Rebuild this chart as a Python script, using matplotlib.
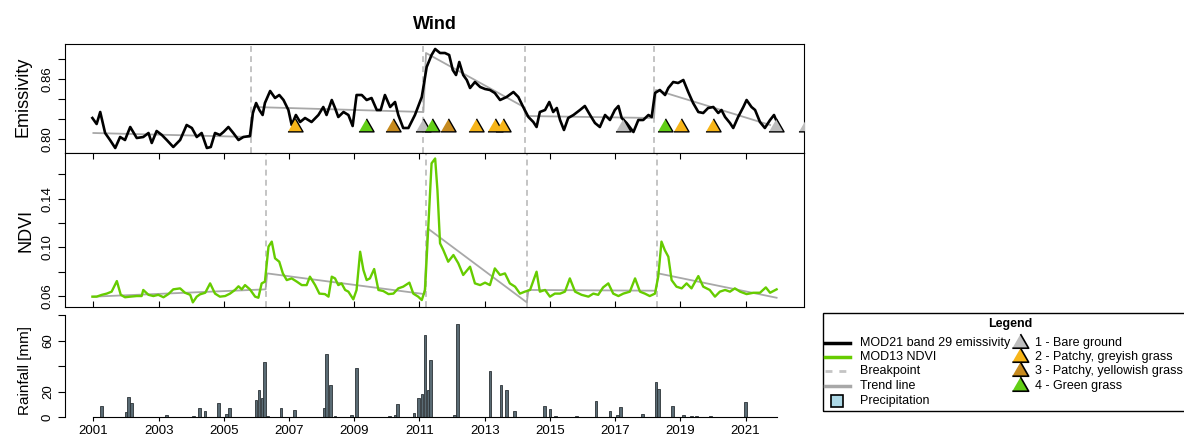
import matplotlib
matplotlib.use('Agg')
import matplotlib.pyplot as plt
from matplotlib.lines import Line2D
from matplotlib.patches import Rectangle

plt.rcParams['font.family'] = ['Liberation Sans', 'DejaVu Sans']

# ---- emissivity (MOD21 band 29) ----
emis_year = [2000.97, 2001.10, 2001.21, 2001.36, 2001.51, 2001.67, 2001.82, 2001.97, 2002.13, 2002.33,
             2002.53, 2002.69, 2002.79, 2002.94, 2003.10, 2003.25, 2003.45, 2003.66, 2003.86, 2004.02,
             2004.17, 2004.32, 2004.48, 2004.60, 2004.73, 2004.88, 2004.99, 2005.14, 2005.29, 2005.45,
             2005.60, 2005.80, 2005.89, 2005.99, 2006.09, 2006.19, 2006.26, 2006.42, 2006.57, 2006.70,
             2006.83, 2006.98, 2007.08, 2007.21, 2007.34, 2007.49, 2007.69, 2007.90, 2008.05, 2008.15,
             2008.31, 2008.41, 2008.51, 2008.67, 2008.82, 2008.95, 2009.07, 2009.23, 2009.38, 2009.53,
             2009.69, 2009.81, 2009.94, 2010.10, 2010.25, 2010.35, 2010.50, 2010.66, 2010.86, 2011.07,
             2011.22, 2011.37, 2011.48, 2011.63, 2011.78, 2011.91, 2012.02, 2012.12, 2012.22, 2012.34,
             2012.45, 2012.55, 2012.70, 2012.86, 2013.01, 2013.16, 2013.31, 2013.47, 2013.67, 2013.88,
             2014.03, 2014.18, 2014.34, 2014.49, 2014.59, 2014.69, 2014.85, 2014.98, 2015.10, 2015.21,
             2015.31, 2015.43, 2015.56, 2015.72, 2015.92, 2016.07, 2016.23, 2016.38, 2016.53, 2016.69,
             2016.84, 2016.99, 2017.10, 2017.20, 2017.35, 2017.56, 2017.71, 2017.86, 2018.02, 2018.12,
             2018.22, 2018.37, 2018.53, 2018.63, 2018.78, 2018.93, 2019.09, 2019.24, 2019.39, 2019.55,
             2019.70, 2019.85, 2020.01, 2020.16, 2020.26, 2020.37, 2020.52, 2020.62, 2020.77, 2020.93,
             2021.03, 2021.18, 2021.29, 2021.44, 2021.59, 2021.75, 2021.87, 2022.00]
emis = [0.821, 0.815, 0.827, 0.806, 0.799, 0.791, 0.802, 0.799, 0.812, 0.801,
        0.802, 0.806, 0.796, 0.808, 0.804, 0.799, 0.792, 0.799, 0.814, 0.811,
        0.802, 0.806, 0.791, 0.792, 0.806, 0.804, 0.807, 0.812, 0.806, 0.799,
        0.802, 0.803, 0.826, 0.836, 0.829, 0.824, 0.836, 0.848, 0.841, 0.844,
        0.839, 0.829, 0.814, 0.824, 0.817, 0.821, 0.817, 0.824, 0.832, 0.824,
        0.839, 0.831, 0.822, 0.827, 0.824, 0.813, 0.844, 0.844, 0.839, 0.841,
        0.829, 0.829, 0.844, 0.832, 0.837, 0.824, 0.811, 0.811, 0.824, 0.842,
        0.872, 0.884, 0.890, 0.886, 0.886, 0.884, 0.869, 0.864, 0.877, 0.864,
        0.859, 0.851, 0.857, 0.852, 0.850, 0.849, 0.846, 0.839, 0.842, 0.847,
        0.842, 0.832, 0.822, 0.817, 0.812, 0.827, 0.829, 0.837, 0.827, 0.831,
        0.819, 0.809, 0.821, 0.824, 0.829, 0.833, 0.824, 0.816, 0.812, 0.824,
        0.819, 0.829, 0.833, 0.821, 0.816, 0.807, 0.819, 0.819, 0.824, 0.822,
        0.846, 0.849, 0.844, 0.851, 0.857, 0.856, 0.859, 0.847, 0.836, 0.827,
        0.826, 0.831, 0.832, 0.826, 0.829, 0.822, 0.816, 0.811, 0.822, 0.832,
        0.839, 0.832, 0.829, 0.817, 0.811, 0.819, 0.824, 0.814]

emis_trend_year = [2001.0, 2005.83, 2005.92, 2011.12, 2011.2, 2014.2, 2014.25, 2018.19, 2018.25, 2021.75]
emis_trend = [0.806, 0.802, 0.832, 0.827, 0.886, 0.832, 0.823, 0.821, 0.849, 0.814]
emis_breaks = [2005.83, 2011.12, 2014.23, 2018.19]

# land cover class observations (shown as triangles)
tri_year = [2007.18, 2009.35, 2010.20, 2011.10, 2011.37, 2011.88, 2012.73, 2013.31, 2013.55,
            2017.25, 2018.53, 2019.02, 2019.99, 2021.93, 2022.85]
tri_class = [2, 4, 3, 1, 4, 3, 2, 2, 2, 1, 4, 2, 2, 1, 1]
tri_level = 0.812
class_names = ['1 - Bare ground', '2 - Patchy, greyish grass',
               '3 - Patchy, yellowish grass', '4 - Green grass']
class_cols = ['#bebebe', '#f7b519', '#c68a1e', '#62cf16']

# ---- NDVI (MOD13) ----
ndvi_year = [2000.97, 2001.10, 2001.26, 2001.41, 2001.56, 2001.72, 2001.84, 2001.97, 2002.13, 2002.33,
             2002.48, 2002.53, 2002.69, 2002.84, 2002.99, 2003.15, 2003.30, 2003.45, 2003.66, 2003.81,
             2003.97, 2004.05, 2004.17, 2004.27, 2004.43, 2004.58, 2004.73, 2004.88, 2005.04, 2005.19,
             2005.34, 2005.45, 2005.55, 2005.65, 2005.80, 2005.96, 2006.06, 2006.16, 2006.26, 2006.37,
             2006.47, 2006.57, 2006.70, 2006.81, 2006.93, 2007.08, 2007.24, 2007.39, 2007.54, 2007.64,
             2007.80, 2007.93, 2008.10, 2008.21, 2008.31, 2008.41, 2008.51, 2008.61, 2008.72, 2008.82,
             2008.97, 2009.07, 2009.18, 2009.28, 2009.38, 2009.48, 2009.61, 2009.74, 2009.89, 2010.05,
             2010.20, 2010.35, 2010.50, 2010.69, 2010.81, 2010.96, 2011.07, 2011.17, 2011.27, 2011.37,
             2011.48, 2011.55, 2011.63, 2011.73, 2011.88, 2012.04, 2012.19, 2012.34, 2012.55, 2012.70,
             2012.86, 2013.01, 2013.16, 2013.31, 2013.47, 2013.62, 2013.77, 2013.93, 2014.08, 2014.23,
             2014.39, 2014.59, 2014.69, 2014.85, 2015.00, 2015.15, 2015.31, 2015.46, 2015.61, 2015.77,
             2015.97, 2016.18, 2016.33, 2016.48, 2016.63, 2016.79, 2016.94, 2017.10, 2017.25, 2017.45,
             2017.61, 2017.76, 2017.91, 2018.06, 2018.22, 2018.32, 2018.42, 2018.52, 2018.63, 2018.73,
             2018.88, 2019.04, 2019.19, 2019.34, 2019.55, 2019.70, 2019.90, 2020.06, 2020.21, 2020.37,
             2020.52, 2020.67, 2020.83, 2021.03, 2021.24, 2021.44, 2021.62, 2021.75, 2021.95]
ndvi = [0.0595, 0.0595, 0.061, 0.062, 0.0636, 0.0723, 0.061, 0.059, 0.0595, 0.060,
        0.060, 0.065, 0.061, 0.060, 0.061, 0.059, 0.0616, 0.0655, 0.0663, 0.0627,
        0.061, 0.0548, 0.0595, 0.0614, 0.0627, 0.0704, 0.062, 0.0595, 0.060, 0.062,
        0.065, 0.068, 0.0655, 0.069, 0.0655, 0.0595, 0.0586, 0.0704, 0.0718, 0.1006,
        0.1047, 0.091, 0.0882, 0.0786, 0.0731, 0.0745, 0.0718, 0.069, 0.069, 0.0759,
        0.069, 0.062, 0.0616, 0.0595, 0.0759, 0.0745, 0.069, 0.0704, 0.065, 0.0636,
        0.0573, 0.065, 0.0964, 0.0814, 0.0731, 0.0745, 0.0822, 0.065, 0.0641, 0.0616,
        0.062, 0.0663, 0.0677, 0.071, 0.062, 0.0595, 0.0567, 0.065, 0.117, 0.169,
        0.173, 0.147, 0.1033, 0.0978, 0.0882, 0.0937, 0.0869, 0.0773, 0.0841, 0.0704,
        0.069, 0.071, 0.069, 0.0827, 0.0773, 0.0786, 0.0704, 0.0677, 0.062, 0.0636,
        0.065, 0.080, 0.0636, 0.065, 0.0595, 0.062, 0.062, 0.0636, 0.0745, 0.0636,
        0.061, 0.0595, 0.062, 0.061, 0.0671, 0.0704, 0.062, 0.060, 0.062, 0.0636,
        0.0745, 0.0636, 0.062, 0.060, 0.062, 0.0759, 0.1047, 0.0978, 0.0923, 0.0731,
        0.0677, 0.0663, 0.0704, 0.0663, 0.0764, 0.0677, 0.065, 0.0595, 0.0636, 0.065,
        0.0636, 0.0663, 0.0636, 0.0616, 0.0627, 0.0627, 0.0671, 0.0627, 0.0655]

ndvi_trend_year = [2001.0, 2006.28, 2006.33, 2011.15, 2011.25, 2014.29, 2014.34, 2018.25, 2018.32, 2021.95]
ndvi_trend = [0.0595, 0.0655, 0.0786, 0.0616, 0.1156, 0.0548, 0.065, 0.0644, 0.0786, 0.0586]
ndvi_breaks = [2006.28, 2011.20, 2014.29, 2018.29]

# ---- rainfall ----
rain_year = [2001.24, 2002.00, 2002.08, 2002.18, 2003.25, 2004.07, 2004.25, 2004.42, 2004.83, 2005.09,
             2005.17, 2005.99, 2006.08, 2006.17, 2006.25, 2006.35, 2006.75, 2007.16, 2008.00, 2008.08,
             2008.16, 2008.26, 2008.41, 2008.92, 2009.07, 2010.07, 2010.25, 2010.33, 2010.83, 2010.98,
             2011.08, 2011.17, 2011.26, 2011.34, 2012.07, 2012.17, 2013.16, 2013.50, 2013.67, 2013.92,
             2014.83, 2015.00, 2015.16, 2015.82, 2016.41, 2016.84, 2017.08, 2017.17, 2017.83, 2018.25,
             2018.34, 2018.75, 2019.09, 2019.35, 2019.50, 2019.93, 2021.00, 2021.26]
rain = [8.9, 3.9, 15.7, 11.0, 1.8, 0.5, 6.8, 5.0, 11.0, 2.6,
        7.0, 13.0, 20.9, 14.9, 43.0, 1.0, 7.0, 5.7, 0.3, 7.0,
        49.6, 24.8, 0.5, 1.6, 38.4, 1.0, 1.3, 9.9, 3.1, 14.9,
        17.7, 64.5, 20.9, 44.9, 1.3, 73.0, 36.0, 24.8, 20.9, 4.4,
        8.4, 6.3, 1.0, 1.0, 12.5, 5.0, 1.3, 7.8, 2.1, 27.7,
        21.9, 8.4, 1.8, 0.8, 0.5, 1.0, 12.0, 0.3]

year_ticks = list(range(2001, 2022, 2))

# R-like triangle (wider than tall)
tri = [(-1, -0.58), (1, -0.58), (0, 1.15)]
brk_col = '#c4c4c4'
trend_col = '#a8a8a8'
ndvi_col = '#66cc00'

W, H = 1184, 438
fig = plt.figure(figsize=(W / 100, H / 100), dpi=100)


def box(l, t, r, b):
    return [l / W, 1 - b / H, (r - l) / W, (b - t) / H]


ax1 = fig.add_axes(box(65, 44, 804, 153))
ax2 = fig.add_axes(box(65, 153, 804, 307))
ax3 = fig.add_axes(box(65, 315, 804, 417))
xlim = (2000.13, 2022.79)

# top panel: emissivity
for b in emis_breaks:
    ax1.axvline(b, color=brk_col, lw=1.4, dashes=(3, 2.2), zorder=1)
ax1.plot(emis_trend_year, emis_trend, color=trend_col, lw=1.3, zorder=2)
ax1.plot(emis_year, emis, color='black', lw=1.9, zorder=3)
for k in range(1, 5):
    xs = [x for x, c in zip(tri_year, tri_class) if c == k]
    ax1.plot(xs, [tri_level] * len(xs), ls='none', marker=tri, ms=12.5,
             mfc=class_cols[k - 1], mec='black', mew=1.0, zorder=4)
ax1.set_xlim(*xlim)
ax1.set_ylim(0.786, 0.895)
ax1.set_yticks([0.80, 0.82, 0.84, 0.86, 0.88])
ax1.set_yticklabels(['0.80', '', '', '0.86', ''])
ax1.tick_params(axis='x', bottom=False, labelbottom=False)
ax1.tick_params(axis='y', length=5, pad=3, labelsize=9.5, labelrotation=90)
ax1.set_ylabel('Emissivity', fontsize=13)
ax1.yaxis.set_label_coords(-0.045, 0.52)
for lab in ax1.get_yticklabels():
    lab.set_va('center')
ax1.set_title('Wind', fontsize=13, fontweight='bold', pad=11)

# middle panel: NDVI
for b in ndvi_breaks:
    ax2.axvline(b, color=brk_col, lw=1.4, dashes=(3, 2.2), zorder=1)
ax2.plot(ndvi_trend_year, ndvi_trend, color=trend_col, lw=1.3, zorder=2)
ax2.plot(ndvi_year, ndvi, color=ndvi_col, lw=1.7, zorder=3)
ax2.set_xlim(*xlim)
ax2.set_ylim(0.051, 0.1775)
ax2.set_xticks(year_ticks)
ax2.tick_params(axis='x', top=True, bottom=True, direction='in', length=4,
                labelbottom=False)
ax2.set_yticks([0.06, 0.08, 0.10, 0.12, 0.14, 0.16])
ax2.set_yticklabels(['0.06', '', '0.10', '', '0.14', ''])
ax2.tick_params(axis='y', length=5, pad=3, labelsize=9.5, labelrotation=90)
for lab in ax2.get_yticklabels():
    lab.set_va('center')
ax2.set_ylabel('NDVI', fontsize=13)
ax2.yaxis.set_label_coords(-0.041, 0.5)

# bottom panel: rainfall
ax3.bar(rain_year, rain, width=0.085, color='#5a6b74', edgecolor='#2b3236', lw=0.6)
ax3.set_xlim(*xlim)
ax3.set_ylim(0, 80)
for s in ['top', 'right']:
    ax3.spines[s].set_visible(False)
ax3.spines['left'].set_bounds(0, 80)
ax3.spines['bottom'].set_bounds(2001, 2021.95)
ax3.set_xticks(year_ticks)
ax3.set_xticklabels([str(y) for y in year_ticks])
ax3.tick_params(axis='x', length=3, pad=3, labelsize=9.5)
ax3.set_yticks([0, 20, 40, 60, 80])
ax3.set_yticklabels(['0', '20', '', '60', ''])
ax3.tick_params(axis='y', length=5, pad=3, labelsize=9.5, labelrotation=90)
for lab in ax3.get_yticklabels():
    lab.set_va('center')
ax3.set_ylabel('Rainfall [mm]', fontsize=11)
ax3.yaxis.set_label_coords(-0.045, 0.46)


# legend drawn by hand, box runs off the right edge like the original
def fx(px):
    return px / W


def fy(py):
    return 1 - py / H


fig.add_artist(Rectangle((fx(823), fy(411)), (1250 - 823) / W, (411 - 313) / H,
                         transform=fig.transFigure, fill=False, ec='black', lw=1.0))
fig.text(fx(1010), fy(324), 'Legend', fontsize=9, fontweight='bold', ha='center', va='center')

rows = [342.7, 356.7, 371.0, 386.0, 401.0]
series_labels = ['MOD21 band 29 emissivity', 'MOD13 NDVI', 'Breakpoint', 'Trend line', 'Precipitation']
line_styles = [dict(color='black', lw=2.5), dict(color=ndvi_col, lw=2.5),
               dict(color=brk_col, lw=2.0, dashes=(2.5, 2.5)), dict(color=trend_col, lw=2.5)]
for r, st in zip(rows[:4], line_styles):
    fig.add_artist(Line2D([fx(825), fx(850)], [fy(r), fy(r)], transform=fig.transFigure, **st))
fig.add_artist(Line2D([fx(837)], [fy(rows[4])], transform=fig.transFigure, ls='none',
                      marker='s', ms=8, mfc='#add8e6', mec='black', mew=1.2))
for r, t in zip(rows, series_labels):
    fig.text(fx(860), fy(r), t, fontsize=9, ha='left', va='center')
for k in range(4):
    fig.add_artist(Line2D([fx(1020)], [fy(rows[k])], transform=fig.transFigure, ls='none',
                          marker=tri, ms=13.5, mfc=class_cols[k], mec='black', mew=1.2))
    fig.text(fx(1035), fy(rows[k]), class_names[k], fontsize=9, ha='left', va='center')

fig.savefig('out.png', dpi=100)
